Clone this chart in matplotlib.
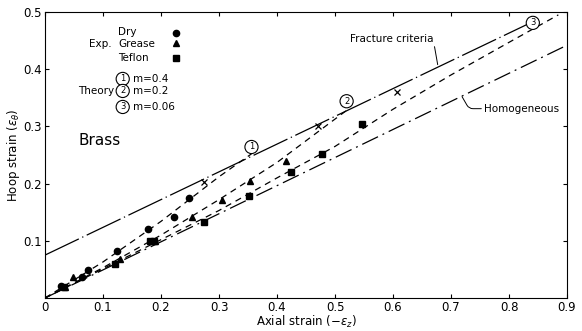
import matplotlib
matplotlib.use("Agg")
from matplotlib import pyplot as plt

dry_x = [0.027, 0.064, 0.074, 0.124, 0.178, 0.222, 0.249]
dry_y = [0.021, 0.036, 0.049, 0.082, 0.120, 0.142, 0.174]

grease_x = [0.034, 0.049, 0.129, 0.190, 0.253, 0.305, 0.353, 0.415, 0.843]
grease_y = [0.020, 0.036, 0.069, 0.100, 0.141, 0.171, 0.204, 0.239, 0.488]

teflon_x = [0.032, 0.121, 0.181, 0.188, 0.274, 0.352, 0.424, 0.477, 0.546]
teflon_y = [0.019, 0.060, 0.100, 0.100, 0.133, 0.178, 0.220, 0.252, 0.305]

# fracture points (x marks)
frac_pts_x = [0.274, 0.471, 0.606]
frac_pts_y = [0.203, 0.301, 0.361]

# theory curves
th1_x = [0, 0.1, 0.2, 0.3, 0.356]
th1_y = [0, 0.063, 0.134, 0.212, 0.252]
th2_x = [0, 0.1, 0.2, 0.3, 0.4, 0.52]
th2_y = [0, 0.053, 0.110, 0.172, 0.237, 0.328]
th3_x = [0, 0.1, 0.2, 0.3, 0.4, 0.5, 0.6, 0.7, 0.8, 0.885]
th3_y = [0, 0.051, 0.102, 0.153, 0.210, 0.265, 0.330, 0.390, 0.447, 0.495]

# fracture criteria and homogeneous lines
frac_x = [0, 0.845]
frac_y = [0.075, 0.485]
homo_x = [0, 0.9]
homo_y = [0, 0.442]

# where the circled labels sit
circ_x = [0.356, 0.520, 0.841]
circ_y = [0.264, 0.344, 0.481]
circ_lab = ["1", "2", "3"]

xticks = [0, 0.1, 0.2, 0.3, 0.4, 0.5, 0.6, 0.7, 0.8, 0.9]
yticks = [0.1, 0.2, 0.3, 0.4, 0.5]

fig = plt.figure(figsize=(5.82, 3.31), dpi=100)
ax = fig.add_axes([0.0773, 0.0997, 0.8970, 0.8640])

# lines
ax.plot(frac_x, frac_y, color="black", lw=0.9, linestyle=(0, (30, 3, 1, 3)))
ax.plot(homo_x, homo_y, color="black", lw=0.9, linestyle=(0, (14, 4, 1.5, 4)))
for tx, ty in [(th1_x, th1_y), (th2_x, th2_y), (th3_x, th3_y)]:
    ax.plot(tx, ty, color="black", lw=0.9, linestyle=(0, (5, 4)))

# points
ax.plot(dry_x, dry_y, "o", color="black", ms=4.5)
ax.plot(grease_x, grease_y, "^", color="black", ms=4.5)
ax.plot(teflon_x, teflon_y, "s", color="black", ms=4)
ax.plot(frac_pts_x, frac_pts_y, "x", color="black", ms=4, mew=0.9)

# circled numbers on the plot
for cx, cy, lab in zip(circ_x, circ_y, circ_lab):
    ax.text(cx, cy, lab, fontsize=6, ha="center", va="center",
            bbox=dict(boxstyle="circle,pad=0.25", fc="white", ec="black", lw=0.8))

# legend block, drawn by hand like the original
ax.text(0.126, 0.465, "Dry", fontsize=7.5, va="center")
ax.text(0.115, 0.444, "Exp.", fontsize=7.5, va="center", ha="right")
ax.text(0.126, 0.444, "Grease", fontsize=7.5, va="center")
ax.text(0.126, 0.419, "Teflon", fontsize=7.5, va="center")
ax.plot([0.226], [0.464], "o", color="black", ms=4.5)
ax.plot([0.226], [0.446], "^", color="black", ms=4.5)
ax.plot([0.226], [0.420], "s", color="black", ms=4)

leg_y = [0.383, 0.362, 0.334]
leg_m = ["m=0.4", "m=0.2", "m=0.06"]
for ly, lab, m in zip(leg_y, circ_lab, leg_m):
    ax.text(0.134, ly, lab, fontsize=6, ha="center", va="center",
            bbox=dict(boxstyle="circle,pad=0.25", fc="white", ec="black", lw=0.8))
    ax.text(0.152, ly, m, fontsize=7.5, va="center")
ax.text(0.120, 0.362, "Theory", fontsize=7.5, va="center", ha="right")

ax.text(0.057, 0.275, "Brass", fontsize=11, va="center")

# annotations
ax.annotate("Fracture criteria", xy=(0.677, 0.408), xytext=(0.526, 0.453),
            fontsize=7.5, va="center",
            arrowprops=dict(arrowstyle="-", lw=0.7, color="black",
                            connectionstyle="angle,angleA=0,angleB=-80,rad=4",
                            shrinkA=0, shrinkB=0, relpos=(0.62, 0)))
ax.annotate("Homogeneous", xy=(0.719, 0.352), xytext=(0.757, 0.331),
            fontsize=7.5, va="center",
            arrowprops=dict(arrowstyle="-", lw=0.7, color="black",
                            connectionstyle="angle,angleA=0,angleB=-60,rad=4",
                            shrinkA=0, shrinkB=0, relpos=(0, 0.5)))

ax.set_xlim(0, 0.9)
ax.set_ylim(0, 0.5)
ax.set_xticks(xticks)
ax.set_xticklabels(["0", "0.1", "0.2", "0.3", "0.4", "0.5", "0.6", "0.7", "0.8", "0.9"])
ax.set_yticks(yticks)
ax.set_yticklabels(["0.1", "0.2", "0.3", "0.4", "0.5"])
ax.tick_params(direction="in", length=3, labelsize=8.5, top=True, right=True, pad=2)
ax.set_xlabel(r"Axial strain ($-\epsilon_z$)", fontsize=8.5, labelpad=0)
ax.set_ylabel(r"Hoop strain ($\epsilon_\theta$)", fontsize=8.5, labelpad=1)

fig.savefig("out.png", dpi=100)
